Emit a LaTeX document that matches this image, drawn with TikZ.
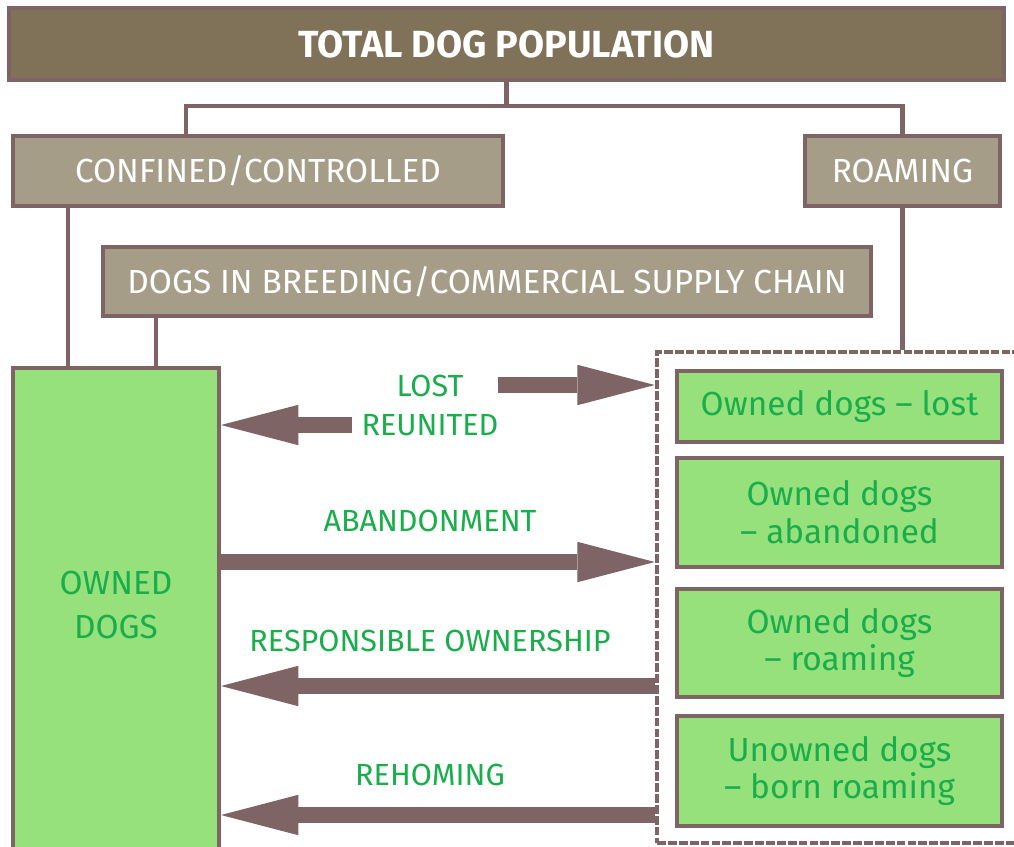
\documentclass[tikz,border=0pt]{standalone}
\usepackage{fontspec}
\setmainfont{Fira Sans}
\usepackage{tikz}
\usetikzlibrary{arrows.meta,positioning}

\definecolor{olive}{HTML}{7F7259}
\definecolor{sand}{HTML}{A69D89}
\definecolor{mauve}{HTML}{7F6466}
\definecolor{leaf}{HTML}{97E17C}
\definecolor{dgreen}{HTML}{1AAD4B}

\begin{document}
\begin{tikzpicture}[x=0.02cm,y=-0.02cm,line join=miter]
    \tikzstyle{box}=[draw=mauve,line width=2.3pt,inner sep=0pt,align=center,
        font=\fontsize{19}{21.5}\selectfont]
    \tikzstyle{head}=[box,fill=olive,text=white,font=\bfseries\fontsize{21.5}{24}\selectfont]
    \tikzstyle{group}=[box,fill=sand,text=white]
    \tikzstyle{dogs}=[box,fill=leaf,text=dgreen]
    \tikzstyle{conn}=[draw=mauve,line width=2.6pt]
    \tikzstyle{bigarrow}=[draw=mauve,line width=9.5pt,
        -{Triangle[length=44pt,width=23pt,line width=0pt,fill=mauve]}]
    \tikzstyle{lbl}=[text=dgreen,font=\fontsize{17.4}{19}\selectfont]

    \useasboundingbox (0,0) rectangle (1014,846);

    % top of the tree
    \node[head] (total) at (506.5,44) [minimum width=19.9cm,minimum height=1.44cm] {TOTAL DOG POPULATION};
    \node[group] (confined) at (258,171) [minimum width=9.8cm,minimum height=1.4cm] {CONFINED/CONTROLLED};
    \node[group] (roaming) at (902.5,171) [minimum width=3.9cm,minimum height=1.4cm] {ROAMING};
    \node[group] (breeding) at (487,281.5) [minimum width=15.36cm,minimum height=1.38cm] {DOGS IN BREEDING/COMMERCIAL SUPPLY CHAIN};

    % owned dogs and the roaming group
    \node[dogs] (owned) at (116,612) [minimum width=4.12cm,minimum height=9.76cm,
        label={[text=dgreen,align=center,font=\fontsize{19}{25}\selectfont,yshift=4pt]center:OWNED\\DOGS}] {};
    \node[draw=mauve,line width=2.6pt,dash pattern=on 5pt off 1.2pt,
        minimum width=7.34cm,minimum height=9.82cm,inner sep=0pt] (grp) at (840.5,597.5) {};

    \node[dogs] (lost) at (839.5,406.5) [minimum width=6.5cm,minimum height=1.42cm] {Owned dogs -- lost};
    \node[dogs] (aband) at (839.5,512.5) [minimum width=6.5cm,minimum height=2.18cm] {Owned dogs\\-- abandoned};
    \node[dogs] (owroam) at (839.5,643) [minimum width=6.5cm,minimum height=2.16cm] {Owned dogs\\-- roaming};
    \node[dogs] (born) at (839.5,771) [minimum width=6.5cm,minimum height=2.2cm] {Unowned dogs\\-- born roaming};

    % tree lines
    \coordinate (bar) at (506.5,106);
    \coordinate (cfd) at ([xshift=1.14cm]confined.south west);
    \coordinate (brd) at ([xshift=1.1cm]breeding.south west);
    \draw[conn] (total.south) -- (bar) -| ([xshift=-1.44cm]confined.north);
    \draw[conn] (bar) -| (roaming.north);
    \draw[conn] (cfd) -- (cfd |- owned.north);
    \draw[conn] (brd) -- (brd |- owned.north);
    \draw[conn] (roaming.south) -- (roaming.south |- grp.north);

    % flows
    \coordinate (lostS) at (498,385);
    \coordinate (reuS) at (352,425);
    \coordinate (abY) at (0,562);
    \coordinate (roY) at (0,686);
    \coordinate (reY) at (0,815);
    \draw[bigarrow] (lostS) -- (lostS -| grp.west);
    \draw[bigarrow] (reuS) -- (reuS -| owned.east);
    \draw[bigarrow] (owned.east |- abY) -- (grp.west |- abY);
    \draw[bigarrow] (grp.west |- roY) -- (owned.east |- roY);
    \draw[bigarrow] (grp.west |- reY) -- (owned.east |- reY);

    \node[lbl] (lostT) at (430,386) {LOST};
    \node[lbl] (reuT) at (430,425) {REUNITED};
    \node[lbl] (abT) at (430,521) {ABANDONMENT};
    \node[lbl] (roT) at (430,641) {RESPONSIBLE OWNERSHIP};
    \node[lbl] (reT) at (430,775) {REHOMING};
\end{tikzpicture}
\end{document}
